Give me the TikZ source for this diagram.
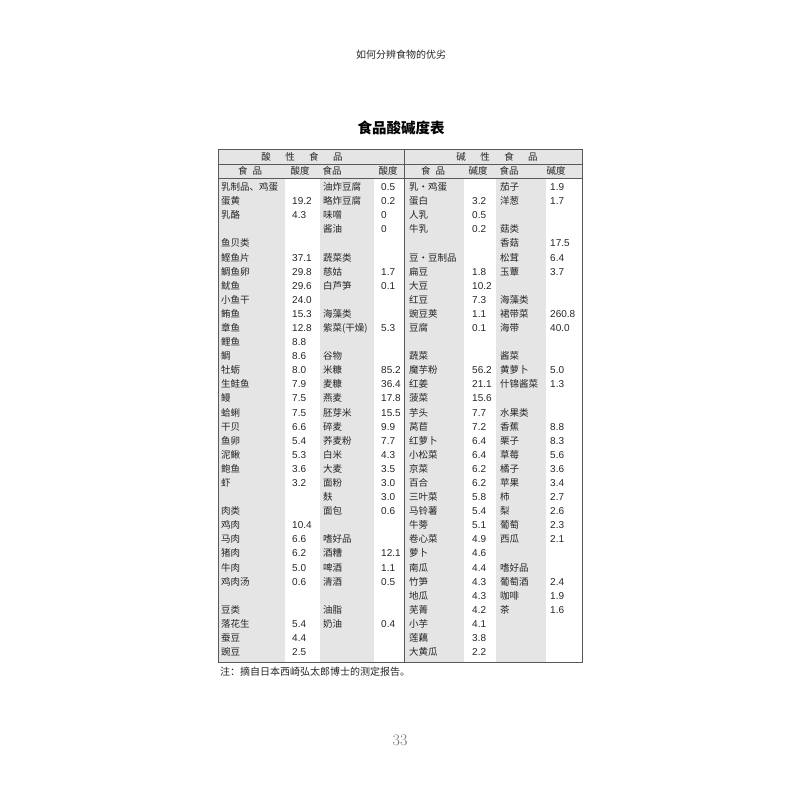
\documentclass[tikz,border=0pt]{standalone}
\usepackage{fontspec}
\newfontfamily\cjk{Noto Sans CJK SC}
\newfontfamily\numf{Liberation Sans}
\definecolor{cellgray}{gray}{0.9}
\definecolor{ink}{gray}{0.15}
\definecolor{framec}{gray}{0.35}
\tikzset{
  food/.style={anchor=west,inner sep=0pt,text height=7.2pt,text depth=0pt,text=ink,font=\cjk\fontsize{9.5}{10}\selectfont},
  val/.style={anchor=west,inner sep=0pt,text height=7.2pt,text depth=0pt,text=ink,font=\numf\fontsize{10}{11}\selectfont},
  head/.style={anchor=center,inner sep=0pt,text height=7.2pt,text depth=0pt,text=ink,font=\cjk\fontsize{9.5}{10}\selectfont},
  frame/.style={draw=framec,line width=0.9pt},
  rulel/.style={draw=framec,line width=0.6pt}
}
\newcommand\foodcell[4]{\if\relax\detokenize{#4}\relax\else\node[food] (#1) at (#2,#3) {#4};\fi}
\newcommand\valcell[4]{\if\relax\detokenize{#4}\relax\else\node[val] (#1) at (#2,#3) {#4};\fi}
\newcommand\tabrow[9]{%
  \pgfmathsetmacro\ry{187+(#1-1)*14.09}%
  \foodcell{r#1a}{221}{\ry}{#2}%
  \valcell{r#1b}{292}{\ry}{#3}%
  \foodcell{r#1c}{323}{\ry}{#4}%
  \valcell{r#1d}{381}{\ry}{#5}%
  \foodcell{r#1e}{409}{\ry}{#6}%
  \valcell{r#1f}{472}{\ry}{#7}%
  \foodcell{r#1g}{500}{\ry}{#8}%
  \valcell{r#1h}{550}{\ry}{#9}%
}
\begin{document}
\begin{tikzpicture}[x=1pt,y=-1pt]
\useasboundingbox (0,0) rectangle (800,800);
\fill[white] (0,0) rectangle (800,800);
% page header and title
\node[inner sep=0pt,text=ink,font=\cjk\fontsize{10}{11}\selectfont] (pagehead) at (401,55) {如何分辨食物的优劣};
\node[inner sep=0pt,text=black,font=\cjk\bfseries\fontsize{14.5}{15}\selectfont] (title) at (401,128) {食品酸碱度表};
% shading
\fill[cellgray] (218,149) rectangle (582,178);
\fill[cellgray] (218,178) rectangle (285,662);
\fill[cellgray] (320,178) rectangle (374,662);
\fill[cellgray] (404,178) rectangle (464,662);
\fill[cellgray] (496,178) rectangle (546,662);
% rules
\draw[rulel] (218,164) -- (582,164);
\draw[rulel] (218,178) -- (582,178);
\draw[rulel] (404,149) -- (404,662);
\draw[frame] (218,149) rectangle (582,662);
% headers
\node[head] (hacid) at (302,157) {酸\hspace{14.5pt}性\hspace{14.5pt}食\hspace{14.5pt}品};
\node[head] (hbase) at (497,157) {碱\hspace{14.5pt}性\hspace{14.5pt}食\hspace{14.5pt}品};
\node[head] (h1) at (250,171) {食\hspace{5pt}品};
\node[head] (h2) at (300,171) {酸度};
\node[head] (h3) at (332,171) {食品};
\node[head] (h4) at (388,171) {酸度};
\node[head] (h5) at (433,171) {食\hspace{5pt}品};
\node[head] (h6) at (478,171) {碱度};
\node[head] (h7) at (509,171) {食品};
\node[head] (h8) at (556,171) {碱度};
% body
\tabrow{1}{乳制品、鸡蛋}{}{油炸豆腐}{0.5}{乳・鸡蛋}{}{茄子}{1.9}
\tabrow{2}{蛋黄}{19.2}{略炸豆腐}{0.2}{蛋白}{3.2}{洋葱}{1.7}
\tabrow{3}{乳酪}{4.3}{味噌}{0}{人乳}{0.5}{}{}
\tabrow{4}{}{}{酱油}{0}{牛乳}{0.2}{菇类}{}
\tabrow{5}{鱼贝类}{}{}{}{}{}{香菇}{17.5}
\tabrow{6}{鲣鱼片}{37.1}{蔬菜类}{}{豆·豆制品}{}{松茸}{6.4}
\tabrow{7}{鲷鱼卵}{29.8}{慈姑}{1.7}{扁豆}{1.8}{玉蕈}{3.7}
\tabrow{8}{鱿鱼}{29.6}{白芦笋}{0.1}{大豆}{10.2}{}{}
\tabrow{9}{小鱼干}{24.0}{}{}{红豆}{7.3}{海藻类}{}
\tabrow{10}{鲔鱼}{15.3}{海藻类}{}{豌豆荚}{1.1}{裙带菜}{260.8}
\tabrow{11}{章鱼}{12.8}{紫菜(干燥)}{5.3}{豆腐}{0.1}{海带}{40.0}
\tabrow{12}{鲤鱼}{8.8}{}{}{}{}{}{}
\tabrow{13}{鲷}{8.6}{谷物}{}{蔬菜}{}{酱菜}{}
\tabrow{14}{牡蛎}{8.0}{米糠}{85.2}{魔芋粉}{56.2}{黄萝卜}{5.0}
\tabrow{15}{生鲑鱼}{7.9}{麦糠}{36.4}{红姜}{21.1}{什锦酱菜}{1.3}
\tabrow{16}{鳗}{7.5}{燕麦}{17.8}{菠菜}{15.6}{}{}
\tabrow{17}{蛤蜊}{7.5}{胚芽米}{15.5}{芋头}{7.7}{水果类}{}
\tabrow{18}{干贝}{6.6}{碎麦}{9.9}{莴苣}{7.2}{香蕉}{8.8}
\tabrow{19}{鱼卵}{5.4}{荞麦粉}{7.7}{红萝卜}{6.4}{栗子}{8.3}
\tabrow{20}{泥鳅}{5.3}{白米}{4.3}{小松菜}{6.4}{草莓}{5.6}
\tabrow{21}{鲍鱼}{3.6}{大麦}{3.5}{京菜}{6.2}{橘子}{3.6}
\tabrow{22}{虾}{3.2}{面粉}{3.0}{百合}{6.2}{苹果}{3.4}
\tabrow{23}{}{}{麸}{3.0}{三叶菜}{5.8}{柿}{2.7}
\tabrow{24}{肉类}{}{面包}{0.6}{马铃薯}{5.4}{梨}{2.6}
\tabrow{25}{鸡肉}{10.4}{}{}{牛蒡}{5.1}{葡萄}{2.3}
\tabrow{26}{马肉}{6.6}{嗜好品}{}{卷心菜}{4.9}{西瓜}{2.1}
\tabrow{27}{猪肉}{6.2}{酒糟}{12.1}{萝卜}{4.6}{}{}
\tabrow{28}{牛肉}{5.0}{啤酒}{1.1}{南瓜}{4.4}{嗜好品}{}
\tabrow{29}{鸡肉汤}{0.6}{清酒}{0.5}{竹笋}{4.3}{葡萄酒}{2.4}
\tabrow{30}{}{}{}{}{地瓜}{4.3}{咖啡}{1.9}
\tabrow{31}{豆类}{}{油脂}{}{芜菁}{4.2}{茶}{1.6}
\tabrow{32}{落花生}{5.4}{奶油}{0.4}{小芋}{4.1}{}{}
\tabrow{33}{蚕豆}{4.4}{}{}{莲藕}{3.8}{}{}
\tabrow{34}{豌豆}{2.5}{}{}{大黄瓜}{2.2}{}{}
% note and page number
\node[anchor=west,inner sep=0pt,text=ink,font=\cjk\fontsize{10}{11}\selectfont] (note) at (220,672) {注：摘自日本西崎弘太郎博士的测定报告。};
\node[inner sep=0pt,text=black!55,font=\fontsize{16}{16}\selectfont] (pagenum) at (400,740) {33};
\end{tikzpicture}
\end{document}
